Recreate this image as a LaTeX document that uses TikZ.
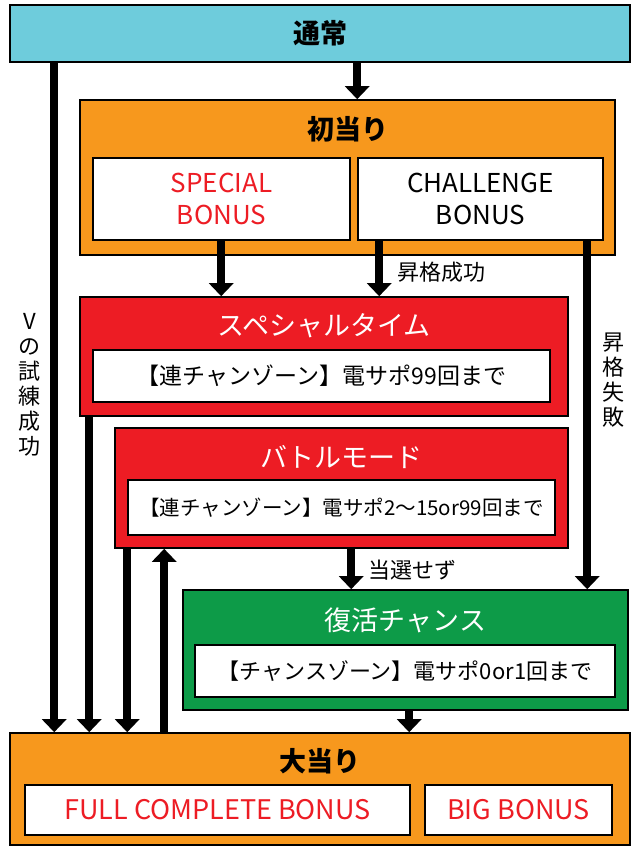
\documentclass[tikz,border=0pt]{standalone}
\usepackage{fontspec}
\setmainfont{Noto Sans CJK JP}
\usetikzlibrary{arrows.meta}
\definecolor{skyc}{HTML}{6ECCDC}
\definecolor{orangec}{HTML}{F7981D}
\definecolor{redc}{HTML}{ED1C24}
\definecolor{greenc}{HTML}{0D9B48}
\tikzset{
  box/.style={draw=black, line width=1.6pt, inner sep=0pt},
  title/.style={font=\fontsize{27}{30}\selectfont},
  inner/.style={font=\fontsize{26}{32}\selectfont},
  arr/.style={line width=8pt, -{Triangle[length=13pt,width=24pt]}},
  lbl/.style={font=\fontsize{22}{26}\selectfont, align=center, inner sep=1pt}
}
\begin{document}
\begin{tikzpicture}[x=1pt,y=-1pt]
\useasboundingbox (0,0) rectangle (640,852);
% boxes
\node[box, fill=skyc, minimum width=620pt, minimum height=57pt] (tsujo) at (320,33.5) {};
\node[title, font=\fontsize{27}{30}\selectfont\bfseries] at (tsujo) {通常};
\node[box, fill=orangec, minimum width=535pt, minimum height=155pt] (shoatari) at (347.5,177.5) {};
\node[title, font=\fontsize{27}{30}\selectfont\bfseries] at (347.5,129) {初当り};
\node[box, fill=white, minimum width=257pt, minimum height=82pt, inner, text=redc, align=center] (special) at (221.5,199) {SPECIAL\\BONUS};
\node[box, fill=white, minimum width=245pt, minimum height=82pt, inner, align=center] (challenge) at (480.5,199) {CHALLENGE\\BONUS};
\node[box, fill=redc, minimum width=488pt, minimum height=119pt] (sptime) at (324,356.5) {};
\node[title, text=white] at (324,326) {スペシャルタイム};
\node[box, fill=white, minimum width=457pt, minimum height=52pt, font=\fontsize{23}{26}\selectfont] (spzone) at (321.5,376) {【連チャンゾーン】電サポ99回まで};
\node[box, fill=redc, minimum width=453pt, minimum height=120pt] (battle) at (341.5,488) {};
\node[title, text=white] at (341.5,457) {バトルモード};
\node[box, fill=white, minimum width=427pt, minimum height=55pt, font=\fontsize{20.5}{24}\selectfont] (btzone) at (341.5,507.5) {【連チャンゾーン】電サポ2\char"301C 15or99回まで};
\node[box, fill=greenc, minimum width=445pt, minimum height=120pt] (fukkatsu) at (405.5,650) {};
\node[title, text=white] at (405.5,620) {復活チャンス};
\node[box, fill=white, minimum width=420pt, minimum height=52pt, font=\fontsize{22}{26}\selectfont] (fkzone) at (405,671) {【チャンスゾーン】電サポ0or1回まで};
\node[box, fill=orangec, minimum width=620pt, minimum height=112pt] (ooatari) at (320,789) {};
\node[title, font=\fontsize{27}{30}\selectfont\bfseries] at (320,761) {大当り};
\node[box, fill=white, minimum width=385pt, minimum height=50pt, font=\fontsize{27}{32}\selectfont, text=redc] (full) at (217.5,810) {FULL COMPLETE BONUS};
\node[box, fill=white, minimum width=187pt, minimum height=50pt, font=\fontsize{27}{32}\selectfont, text=redc] (big) at (518.5,810) {BIG BONUS};
% connectors
\draw[arr] ([xshift=348pt]tsujo.south west) -- ([xshift=278pt]shoatari.north west);
\draw[arr] ([xshift=45pt]tsujo.south west) -- ([xshift=45pt]ooatari.north west);
\draw[arr] ([xshift=129pt]special.south west) -- ([xshift=142pt]sptime.north west);
\draw[arr] ([xshift=22pt]challenge.south west) -- ([xshift=300pt]sptime.north west);
\draw[arr] ([xshift=230pt]challenge.south west) -- ([xshift=405pt]fukkatsu.north west);
\draw[arr] ([xshift=10pt]sptime.south west) -- ([xshift=80pt]ooatari.north west);
\draw[arr] ([xshift=13pt]battle.south west) -- ([xshift=118pt]ooatari.north west);
\draw[arr] ([xshift=155pt]ooatari.north west) -- ([xshift=50pt]battle.south west);
\draw[arr] ([xshift=237pt]battle.south west) -- ([xshift=169pt]fukkatsu.north west);
\draw[arr] ([xshift=227pt]fukkatsu.south west) -- ([xshift=400pt]ooatari.north west);
% labels
\node[lbl, anchor=west] (lsucc) at (396,272) {昇格成功};
\node[lbl, anchor=west] (lnot) at (367,570) {当選せず};
\node[lbl, font=\fontsize{22}{25}\selectfont] (lfail) at (613,380) {昇\\格\\失\\敗};
\node[lbl, font=\fontsize{22}{25}\selectfont] (lvtest) at (30,385) {V\\の\\試\\練\\成\\功};
\end{tikzpicture}
\end{document}
